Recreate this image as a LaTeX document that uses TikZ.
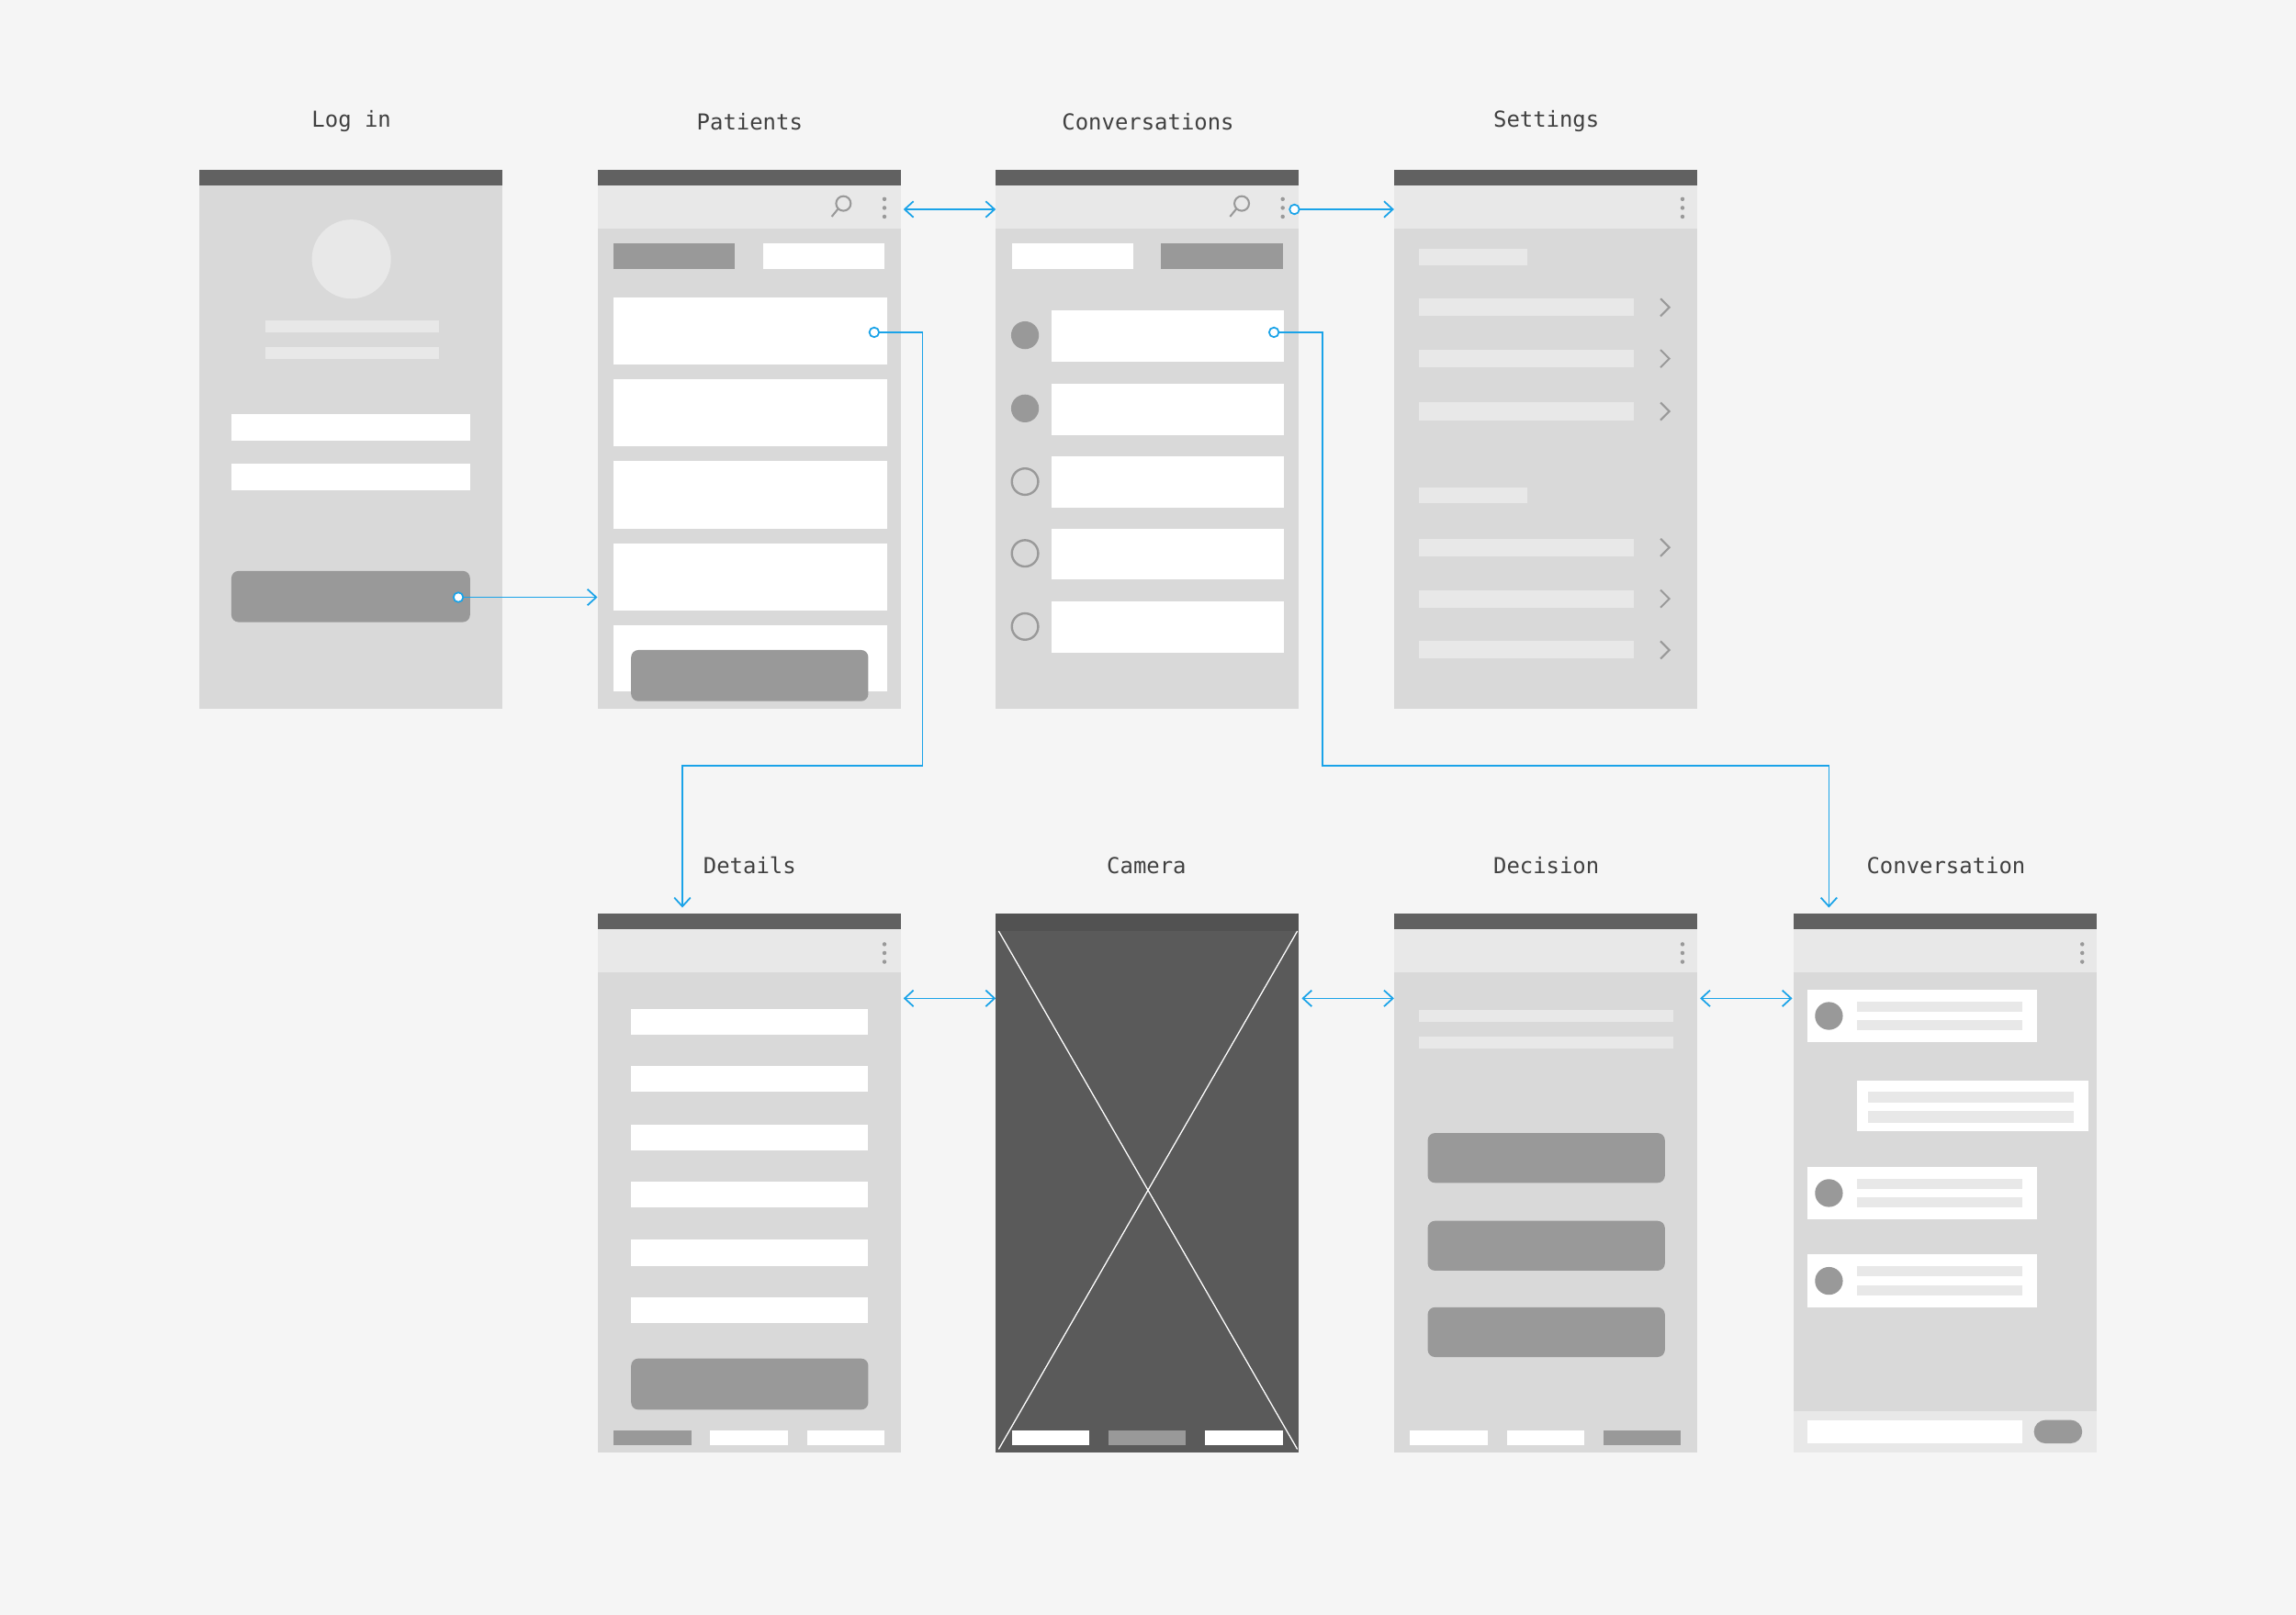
\documentclass[tikz,border=0pt]{standalone}
\usepackage{fontspec}
\setmainfont{DejaVu Sans Mono}
\usetikzlibrary{arrows.meta}
\definecolor{bg}{HTML}{F5F5F5}
\definecolor{bar}{HTML}{616161}
\definecolor{tool}{HTML}{E8E8E8}
\definecolor{body}{HTML}{D9D9D9}
\definecolor{btn}{HTML}{999999}
\definecolor{cam}{HTML}{5A5A5A}
\definecolor{link}{HTML}{1AA3E8}
\tikzset{
 lbl/.style={font=\fontsize{15}{18}\selectfont, text=black!75},
 wbox/.style={fill=white},
 gbox/.style={fill=btn},
 lbar/.style={fill=tool},
 rbtn/.style={fill=btn, rounded corners=5pt},
 lnk/.style={draw=link, line width=1.1pt},
 tip/.style={-{Straight Barb[length=6pt,width=11pt]}},
 dtip/.style={{Straight Barb[length=6pt,width=11pt]}-{Straight Barb[length=6pt,width=11pt]}},
 dot/.style={draw=link, fill=white, line width=1.1pt},
}
\newcommand{\screen}[3]{% x, y, toolbar?
 \fill[body] (#1,#2) rectangle ++(207,368);
 \fill[bar] (#1,#2) rectangle ++(207,11);
 \ifnum#3=1 \fill[tool] (#1,#2+11) rectangle ++(207,29);\fi}
\newcommand{\menudots}[2]{\foreach \d in {-6,0,6}\fill[btn] (#1,#2+\d) circle (1.4);}
\newcommand{\chev}[2]{\draw[btn, line width=1.3pt] (#1-3,#2-6)--(#1+3,#2)--(#1-3,#2+6);}
\begin{document}
\begin{tikzpicture}[x=1pt,y=-1pt]
\fill[bg] (0,0) rectangle (1568,1103);
\useasboundingbox (0,0) rectangle (1568,1103);
% labels
\node[lbl] (tl) at (240,83) {Log in};
\node[lbl] (tp) at (512,83) {Patients};
\node[lbl] (tc) at (784,83) {Conversations};
\node[lbl] (ts) at (1056,83) {Settings};
\node[lbl] (td) at (512,591) {Details};
\node[lbl] (tca) at (783,591) {Camera};
\node[lbl] (tde) at (1056,591) {Decision};
\node[lbl] (tco) at (1329,591) {Conversation};
% Log in
\screen{136}{116}{0}
\fill[tool] (240,177) circle (27);
\fill[lbar] (181,219) rectangle (300,227);
\fill[lbar] (181,237) rectangle (300,245);
\fill[wbox] (158,283) rectangle (321,301);
\fill[wbox] (158,317) rectangle (321,335);
\fill[rbtn] (158,390) rectangle (321,425);
% Patients
\screen{408}{116}{1}
\draw[btn, line width=1.3pt] (576,139) circle (5) (572.5,142.5)--(568,148);
\menudots{604}{142}
\fill[gbox] (419,166) rectangle (502,184);
\fill[wbox] (521,166) rectangle (604,184);
\foreach \y in {203,259,315,371} \fill[wbox] (419,\y) rectangle (606,\y+46);
\fill[wbox] (419,427) rectangle (606,472);
\fill[rbtn] (431,444) rectangle (593,479);
% Conversations
\screen{680}{116}{1}
\draw[btn, line width=1.3pt] (848,139) circle (5) (844.5,142.5)--(840,148);
\menudots{876}{142}
\fill[wbox] (691,166) rectangle (774,184);
\fill[gbox] (793,166) rectangle (876,184);
\foreach \y/\c in {229/1,279/1,329/0,378/0,428/0}{
  \fill[wbox] (718,\y-17) rectangle (877,\y+18);
  \ifnum\c=1 \fill[btn] (700,\y) circle (9.5);\else \draw[btn, line width=1.5pt] (700,\y) circle (9);\fi}
% Settings
\screen{952}{116}{1}
\menudots{1149}{142}
\foreach \y in {170,333} \fill[lbar] (969,\y) rectangle (1043,\y+11);
\foreach \y in {210,245,281,374,409,444}{\fill[lbar] (969,\y-6) rectangle (1116,\y+6); \chev{1137}{\y}}
% Details
\screen{408}{624}{1}
\menudots{604}{651}
\foreach \y in {689,728,768,807,847,886} \fill[wbox] (431,\y) rectangle (593,\y+18);
\fill[rbtn] (431,928) rectangle (593,963);
\fill[gbox] (419,977) rectangle (472,987);
\fill[wbox] (485,977) rectangle (538,987);
\fill[wbox] (551,977) rectangle (604,987);
% Camera
\fill[cam] (680,624) rectangle (887,992);
\fill[bar!85!black] (680,624) rectangle (887,636);
\draw[white, line width=0.8pt] (682,636)--(886,990) (886,636)--(682,990);
\fill[wbox] (691,977) rectangle (744,987);
\fill[gbox] (757,977) rectangle (810,987);
\fill[wbox] (823,977) rectangle (876,987);
% Decision
\screen{952}{624}{1}
\menudots{1149}{651}
\fill[lbar] (969,690) rectangle (1143,698);
\fill[lbar] (969,708) rectangle (1143,716);
\foreach \y in {774,834,893} \fill[rbtn] (975,\y) rectangle (1137,\y+34);
\fill[wbox] (963,977) rectangle (1016,987);
\fill[wbox] (1029,977) rectangle (1082,987);
\fill[gbox] (1095,977) rectangle (1148,987);
% Conversation
\screen{1225}{624}{1}
\menudots{1422}{651}
\foreach \y in {676,797,857}{
  \fill[wbox] (1234,\y) rectangle (1391,\y+36);
  \fill[btn] (1249,\y+18) circle (9.5);
  \fill[lbar] (1268,\y+8) rectangle (1381,\y+15);
  \fill[lbar] (1268,\y+21) rectangle (1381,\y+28);}
\fill[wbox] (1268,738) rectangle (1426,773);
\fill[lbar] (1276,746) rectangle (1416,753);
\fill[lbar] (1276,759) rectangle (1416,767);
\fill[tool] (1225,964) rectangle (1432,992);
\fill[wbox] (1234,970) rectangle (1381,986);
\fill[btn, rounded corners=8pt] (1389,970) rectangle (1422,986);
% connectors
\coordinate (lb) at (313,408); \coordinate (pl) at (408,408);
\coordinate (pr) at (617,143); \coordinate (cl) at (680,143);
\coordinate (cd) at (884,143); \coordinate (sl) at (952,143);
\coordinate (pc) at (597,227); \coordinate (dt) at (466,620);
\coordinate (cc) at (870,227); \coordinate (cot) at (1249,620);
\draw[lnk,tip] (lb) -- (pl);
\draw[lnk,dtip] (pr) -- (cl);
\draw[lnk,tip] (cd) -- (sl);
\draw[lnk,tip] (pc) -- (630,227) -- (630,523) -- (466,523) -- (dt);
\draw[lnk,tip] (cc) -- (903,227) -- (903,523) -- (1249,523) -- (cot);
\draw[lnk,dtip] (617,682) -- (680,682);
\draw[lnk,dtip] (889,682) -- (952,682);
\draw[lnk,dtip] (1161,682) -- (1224,682);
\foreach \p in {lb,cd,pc,cc} \draw[dot] (\p) circle (3.3);
\end{tikzpicture}
\end{document}
